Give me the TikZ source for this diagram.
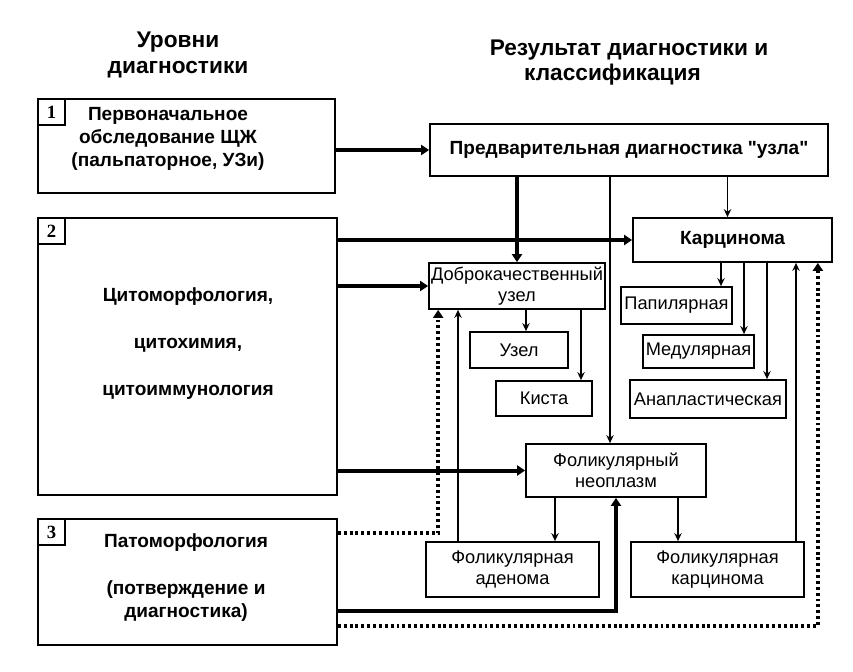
\documentclass[tikz,border=0pt]{standalone}
\usepackage{fontspec}
\setmainfont{Liberation Sans}[Ligatures=TeXOff]
\newfontfamily\numfont{Liberation Serif}
\usetikzlibrary{calc}
\usetikzlibrary{arrows.meta}
\tikzset{every picture/.style={line width=0.75pt}}
\tikzset{
  headtext/.style={align=center,inner sep=0.75pt,font=\fontsize{17}{20}\selectfont\bfseries},
  lvlbox/.style={draw,line width=1.3pt,inner sep=0pt},
  lvltext/.style={align=center,inner sep=0.75pt,font=\fontsize{14.3}{17.25}\selectfont\bfseries},
  numbox/.style={draw,line width=1.3pt,inner sep=0pt,anchor=north west,minimum width=20.25pt,minimum height=19.5pt,font=\numfont\fontsize{14}{16}\selectfont\bfseries},
  resbox/.style={draw,line width=1.3pt,inner sep=0pt,align=center,font=\fontsize{13.7}{15.5}\selectfont},
  boldres/.style={resbox,font=\fontsize{14.3}{15.5}\selectfont\bfseries},
  thinarr/.style={line width=1.2pt,-{Stealth[length=6pt,width=5.5pt]}},
  thickarr/.style={line width=3pt,-{Triangle[length=6pt,width=7.5pt]}},
  dotarr/.style={line width=3pt,dash pattern=on 2.2pt off 2.2pt,-{Triangle[length=6pt,width=7.5pt]}}
}

\begin{document}
\begin{tikzpicture}[x=0.75pt,y=0.75pt,yscale=-1,xscale=1]
\useasboundingbox (0,0) rectangle (853,671);

% Headings
\node[headtext] (headL) at (178,55) {Уровни\\диагностики};
\node[headtext] (headR1) at (629,50) {Результат диагностики и};
\node[headtext] (headR2) at (612.5,75) {классификация};

%Levels of diagnostics
\node[lvlbox,minimum width=222.75pt,minimum height=70.5pt] (lvlA) at (186.5,146) {};
\node[lvlbox,minimum width=224.25pt,minimum height=207.75pt] (lvlB) at (187.5,356.5) {};
\node[lvlbox,minimum width=224.25pt,minimum height=94.5pt] (lvlC) at (187.5,582) {};
\node[numbox] (numA) at (lvlA.north west) {1};
\node[numbox] (numB) at (lvlB.north west) {2};
\node[numbox] (numC) at (lvlC.north west) {3};
% Text Node
\node[lvltext] (txtA) at (168,139) {Первоначальное\\обследование ЩЖ\\(пальпаторное, УЗи)};
% Text Node
\node[lvltext] (txtB) at (188,343.5) {Цитоморфология,\\[18pt]цитохимия,\\[18pt]цитоиммунология};
% Text Node
\node[lvltext] (txtC) at (186,577.5) {Патоморфология\\[18pt](потверждение и\\диагностика)};

%Results and classification
\node[boldres,minimum width=298.5pt,minimum height=39pt] (pre) at (629,150) {Предварительная диагностика "узла"};
\node[boldres,minimum width=149.25pt,minimum height=33pt] (karc) at (732.5,240) {Карцинома};
\node[resbox,minimum width=132pt,minimum height=34.5pt] (dob) at (517,286) {Доброкачественный\\узел};
\node[resbox,minimum width=73.5pt,minimum height=27pt] (uzel) at (519,350) {Узел};
\node[resbox,minimum width=72pt,minimum height=26.25pt] (kista) at (544,398.5) {Киста};
\node[resbox,minimum width=83.25pt,minimum height=27.75pt] (pap) at (676.5,305.5) {Папилярная};
\node[resbox,minimum width=83.25pt,minimum height=24.75pt] (med) at (698.5,351.5) {Медулярная};
\node[resbox,minimum width=117pt,minimum height=28.5pt] (ana) at (708,399) {Анапластическая};
\node[resbox,minimum width=135pt,minimum height=39.75pt] (neo) at (616,470.5) {Фоликулярный\\неоплазм};
\node[resbox,minimum width=129.75pt,minimum height=41.25pt] (aden) at (512.5,569.5) {Фоликулярная\\аденома};
\node[resbox,minimum width=129.75pt,minimum height=41.25pt] (fkar) at (717.5,569.5) {Фоликулярная\\карцинома};

% taps on the boxes
\coordinate (tapNeo) at ($(neo.north)+(-6,0)$);
\coordinate (tapKarc) at ($(karc.north)+(-5,0)$);
\coordinate (tapUzel) at ($(uzel.north)+(7,0)$);
\coordinate (tapKista) at ($(kista.north)+(37,0)$);
\coordinate (tapPap) at ($(pap.north)+(44.5,0)$);
\coordinate (tapMed) at ($(med.north)+(45.5,0)$);
\coordinate (tapAna) at ($(ana.north)+(59,0)$);
\coordinate (tapAden) at ($(aden.north)+(42.5,0)$);
\coordinate (tapFkar) at ($(fkar.north)+(-39.5,0)$);
\coordinate (adenUp) at ($(aden.north)+(-54.5,0)$);
\coordinate (fkarUp) at ($(fkar.north)+(78.5,0)$);
\coordinate (patA) at ($(lvlC.north east)+(0,15)$);
\coordinate (patB) at ($(lvlC.east)+(0,29)$);
\coordinate (patC) at ($(lvlC.east)+(0,44)$);
\coordinate (dobIn) at ($(dob.south west)+(10,0)$);
\coordinate (karcIn) at ($(karc.south east)+(-15,0)$);

%Straight Lines
\draw[thickarr] (lvlA.east |- pre.west) -- (pre.west);
\draw[thickarr] (lvlB.east |- karc.west) -- (karc.west);
\draw[thickarr] (lvlB.east |- dob.west) -- (dob.west);
\draw[thickarr] (lvlB.east |- neo.west) -- (neo.west);
\draw[thickarr] (pre.south -| dob.north) -- (dob.north);
\draw[thinarr] (pre.south -| tapNeo) -- (tapNeo);
\draw[thinarr] (pre.south -| tapKarc) -- (tapKarc);
\draw[thinarr] (dob.south -| tapUzel) -- (tapUzel);
\draw[thinarr] (dob.south -| tapKista) -- (tapKista);
\draw[thinarr] (karc.south -| tapPap) -- (tapPap);
\draw[thinarr] (karc.south -| tapMed) -- (tapMed);
\draw[thinarr] (karc.south -| tapAna) -- (tapAna);
\draw[thinarr] (neo.south -| tapAden) -- (tapAden);
\draw[thinarr] (neo.south -| tapFkar) -- (tapFkar);
\draw[thinarr] (adenUp) -- (adenUp |- dob.south);
\draw[thinarr] (fkarUp) -- (fkarUp |- karc.south);
%Pathomorphology feedback
\draw[dotarr] (patA) -| (dobIn);
\draw[thickarr] (patB) -| (neo.south);
\draw[dotarr] (patC) -| (karcIn);

\end{tikzpicture}
\end{document}
